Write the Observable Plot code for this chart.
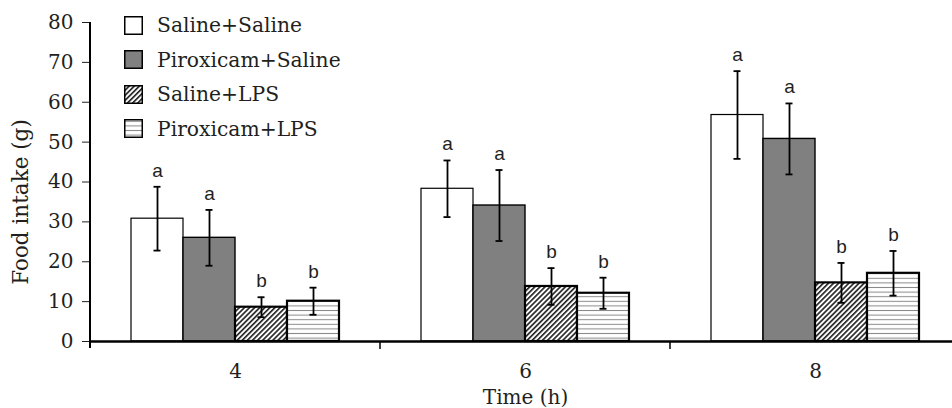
<!DOCTYPE html>
<html><head><meta charset="utf-8">
<script src="https://cdn.jsdelivr.net/npm/d3@7"></script>
<script src="https://cdn.jsdelivr.net/npm/@observablehq/plot@0.6"></script>
<style>
body{margin:0;overflow:hidden;background:#fff;}
#wrap{position:relative;width:952px;height:408px;overflow:hidden;}
#legend{position:absolute;left:124px;top:8px;font-family:"DejaVu Serif";font-size:20.3px;color:#231f20;}
.row{display:flex;align-items:center;height:34.5px;white-space:nowrap;}
.row svg{margin-right:14px;display:block;}
</style></head><body>
<div id="wrap"><div id="legend"></div></div>
<script>
// ---- data ----
const times = ["4", "6", "8"];
const series = ["Saline+Saline", "Piroxicam+Saline", "Saline+LPS", "Piroxicam+LPS"];
// mean food intake (g), one array per series, ordered by time 4,6,8
const salineSaline    = [30.8, 38.3, 56.8];
const piroxSaline     = [26.0, 34.1, 50.8];
const salineLPS       = [8.6, 13.8, 14.7];
const piroxLPS        = [10.1, 12.1, 17.1];
// error (± half-length)
const salineSalineErr = [8.0, 7.1, 11.0];
const piroxSalineErr  = [7.0, 8.9, 8.9];
const salineLPSErr    = [2.5, 4.6, 5.0];
const piroxLPSErr     = [3.4, 3.9, 5.6];
// significance letters
const salineSalineLet = ["a", "a", "a"];
const piroxSalineLet  = ["a", "a", "a"];
const salineLPSLet    = ["b", "b", "b"];
const piroxLPSLet     = ["b", "b", "b"];
const yTicks = [0, 10, 20, 30, 40, 50, 60, 70, 80];

// ---- styles ----
const fills = ["white", "#808080", "url(#diag)", "url(#horiz)"];
const outlineWidths = [1.2, 1.4, 2.2, 2.2];

const meansBy = [salineSaline, piroxSaline, salineLPS, piroxLPS];
const errsBy = [salineSalineErr, piroxSalineErr, salineLPSErr, piroxLPSErr];
const letsBy = [salineSalineLet, piroxSalineLet, salineLPSLet, piroxLPSLet];
const rows = [];
times.forEach((t, ti) => series.forEach((s, si) => rows.push({
  time: t, series: s, mean: meansBy[si][ti], err: errsBy[si][ti], letter: letsBy[si][ti], sw: outlineWidths[si]
})));

const chart = Plot.plot({
  width: 960, height: 408,
  marginLeft: 89, marginRight: 0, marginTop: 22, marginBottom: 67,
  style: {fontFamily: "DejaVu Serif", fontSize: "20px", color: "#231f20", background: "white", maxWidth: "none", overflow: "visible"},
  fx: {domain: times, padding: 0},
  x: {domain: series, paddingInner: 0, paddingOuter: 0.74, axis: null},
  y: {domain: [0, 80]},
  color: {domain: series, range: fills},
  marks: [
    Plot.axisY({ticks: yTicks, tickSize: 8, tickPadding: 9, label: null, stroke: "#231f20"}),
    Plot.axisY({ticks: [], tickSize: 0, label: "Food intake (g)", labelAnchor: "center", labelOffset: 78, labelArrow: "none", fontSize: 21.5}),
    Plot.barY(rows, {fx: "time", x: "series", y: "mean", fill: "series", stroke: "black", strokeWidth: "sw"}),
    Plot.ruleX(rows, {fx: "time", x: "series", y1: d => d.mean - d.err, y2: d => d.mean + d.err, stroke: "black", strokeWidth: 1.8}),
    Plot.tickY(rows, {fx: "time", x: "series", y: d => d.mean - d.err, stroke: "black", strokeWidth: 1.8, insetLeft: 22.5, insetRight: 22.5}),
    Plot.tickY(rows, {fx: "time", x: "series", y: d => d.mean + d.err, stroke: "black", strokeWidth: 1.8, insetLeft: 22.5, insetRight: 22.5}),
    Plot.text(rows, {fx: "time", x: "series", y: d => d.mean + d.err, text: "letter", lineAnchor: "bottom", dy: -10, fontFamily: "Liberation Sans", fontSize: 19, fill: "#231f20"}),
    Plot.ruleY([0], {stroke: "black", strokeWidth: 2.5}),
    Plot.axisFx({anchor: "bottom", tickSize: 0, tickPadding: 22, label: "Time (h)", labelAnchor: "center", labelOffset: 62, labelArrow: "none"})
  ]
});

// patterns
const svg = d3.select(chart);
const defs = svg.insert("defs", ":first-child");
const pd = defs.append("pattern").attr("id", "diag").attr("patternUnits", "userSpaceOnUse")
  .attr("width", 3.6).attr("height", 3.6).attr("patternTransform", "rotate(45)");
pd.append("rect").attr("width", 3.6).attr("height", 3.6).attr("fill", "white");
pd.append("line").attr("x1", 0.8).attr("y1", 0).attr("x2", 0.8).attr("y2", 3.6).attr("stroke", "#222").attr("stroke-width", 1.7);
const ph = defs.append("pattern").attr("id", "horiz").attr("patternUnits", "userSpaceOnUse")
  .attr("width", 6).attr("height", 4.6);
ph.append("rect").attr("width", 6).attr("height", 4.6).attr("fill", "white");
ph.append("line").attr("x1", 0).attr("y1", 2.3).attr("x2", 6).attr("y2", 2.3).attr("stroke", "#8a8a8a").attr("stroke-width", 1);

// shift y-axis label down slightly, as in the reference
svg.selectAll('g[aria-label="y-axis label"]').each(function() {
  const el = d3.select(this);
  const t = el.attr("transform");
  el.attr("transform", (t ? t + " " : "") + "translate(0,20)");
});

// y-axis line and group boundary ticks
const ys = chart.scale("y"), fxs = chart.scale("fx");
const x0 = fxs.apply(times[0]);
const g = svg.append("g").attr("stroke", "black");
g.append("line").attr("x1", x0).attr("x2", x0).attr("y1", ys.apply(80)).attr("y2", ys.apply(0) + 7).attr("stroke-width", 2);
times.forEach(t => {
  const xb = fxs.apply(t) + fxs.bandwidth;
  g.append("line").attr("x1", xb).attr("x2", xb).attr("y1", ys.apply(0)).attr("y2", ys.apply(0) + 8).attr("stroke-width", 1.5);
});

document.getElementById("wrap").prepend(chart);

// legend
const legend = d3.select("#legend");
series.forEach((s, i) => {
  const row = legend.append("div").attr("class", "row");
  const sv = row.append("svg").attr("width", 19).attr("height", 19);
  sv.append("rect").attr("x", 0.75).attr("y", 0.75).attr("width", 17.5).attr("height", 17.5)
    .attr("fill", fills[i]).attr("stroke", "black").attr("stroke-width", 1.5);
  row.append("span").text(s);
});
</script>
</body></html>
